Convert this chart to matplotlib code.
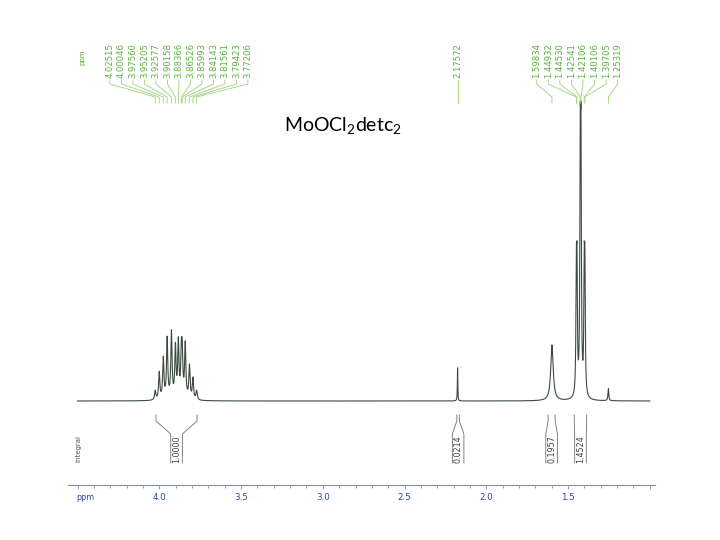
import matplotlib
matplotlib.use("Agg")
import matplotlib.pyplot as plt
import numpy as np
from matplotlib.ticker import MultipleLocator, FuncFormatter

# ---- 数据 (ppm / 相对强度，最高峰 = 100) ----
TITLE = r"MoOCl$_\mathregular{2}$detc$_\mathregular{2}$"

multiplet_ppm = [4.02515, 4.00046, 3.97560, 3.95205, 3.92577, 3.90158, 3.88366,
                 3.86526, 3.85993, 3.84143, 3.81561, 3.79423, 3.77206]
multiplet_int = [3, 9, 13.5, 20, 22, 17, 18.5, 13, 13, 18, 11, 7, 3]

single_ppm = [2.17572]
single_int = [11]

right_ppm = [1.59834, 1.44932, 1.44530, 1.42541, 1.42106, 1.40106, 1.39705, 1.25319]
right_int = [18.5, 36, 36, 72, 72, 36, 36, 4]

# 线宽 (半高半宽, ppm)
multiplet_w = 0.0045
single_w = 0.0015
right_w = [0.009, 0.003, 0.003, 0.003, 0.003, 0.003, 0.003, 0.003]

integral_from = [4.020, 2.180, 1.622, 1.462]
integral_to = [3.769, 2.165, 1.579, 1.386]
integral_val = ["1.0000", "0.0214", "0.1957", "1.4524"]

spec_range = (4.50, 1.00)

# ---- 版面 ----
W, H = 720, 540
X_40 = 159.3          # 4.0 ppm 所在像素
PX_PER_PPM = 163.5
PPM_LEFT = 4.0 + X_40 / PX_PER_PPM
PPM_RIGHT = 4.0 - (W - X_40) / PX_PER_PPM
BASE_PY = 401.0       # 基线像素
PX_PER_UNIT = 3.01

GREEN = "#5cb040"
GREEN_LINE = "#9ad47c"
SPEC = "#3c4a40"
BLUE = "#2a4aa0"


def ppm2px(p):
    return X_40 + (4.0 - p) * PX_PER_PPM


def fx(px):
    return px / W


def fy(py):
    return 1 - py / H


fig = plt.figure(figsize=(7.2, 5.4), dpi=100)
ax = fig.add_axes([0, 0, 1, 1])
ax.axis("off")
ax.set_xlim(PPM_LEFT, PPM_RIGHT)
ax.set_ylim(-(H - BASE_PY) / PX_PER_UNIT, BASE_PY / PX_PER_UNIT)

# 谱线 (洛伦兹线型)
x = np.linspace(spec_range[0], spec_range[1], 40000)
y = np.zeros_like(x)
peaks = list(zip(multiplet_ppm, multiplet_int, [multiplet_w] * len(multiplet_ppm)))
peaks += list(zip(single_ppm, single_int, [single_w]))
peaks += list(zip(right_ppm, right_int, right_w))
for p, h, g in peaks:
    y += h / (1 + ((x - p) / g) ** 2)
ax.plot(x, y, color=SPEC, lw=0.8)


# 峰标注
def label_group(ppms, center_px, spacing):
    n = len(ppms)
    for i, p in enumerate(ppms):
        lx = center_px + (i - (n - 1) / 2) * spacing
        px = ppm2px(p)
        ax.text(fx(lx), fy(78), "%.5f" % p, transform=ax.transAxes, rotation=90,
                ha="center", va="bottom", fontsize=6.1, color=GREEN)
        ax.plot([fx(lx), fx(lx), fx(px), fx(px)], [fy(80), fy(84), fy(97), fy(103)],
                transform=ax.transAxes, color=GREEN_LINE, lw=0.6)


label_group(multiplet_ppm, 178.9, 11.5)
label_group(single_ppm, ppm2px(single_ppm[0]), 11.5)
label_group(right_ppm, 577.2, 11.57)
ax.text(fx(82.5), fy(57), "ppm", transform=ax.transAxes, rotation=90,
        ha="center", va="center", fontsize=5, color=GREEN)

# 积分
for a, b, v in zip(integral_from, integral_to, integral_val):
    pa, pb = ppm2px(a), ppm2px(b)
    mid = (pa + pb) / 2
    for edge, box in ((pa, mid - 5.8), (pb, mid + 5.8)):
        ax.plot([fx(edge), fx(edge), fx(box), fx(box)], [fy(415), fy(421), fy(434), fy(463)],
                transform=ax.transAxes, color="#707070", lw=0.6)
    ax.text(fx(mid), fy(449), v, transform=ax.transAxes, rotation=90,
            ha="center", va="center", fontsize=5.8, color="#404040")
ax.text(fx(78), fy(448), "Integral", transform=ax.transAxes, rotation=90,
        ha="center", va="center", fontsize=5, color="#505050")

# 标题
ax.text(fx(343), fy(132), TITLE, transform=ax.transAxes, ha="center", va="baseline",
        fontsize=14, family="Lato", color="black")

# ppm 刻度轴
ax_l, ax_r, ax_y = 68, 655, 485
ax2 = fig.add_axes([fx(ax_l), fy(ax_y), (ax_r - ax_l) / W, 1e-6])
ax2.set_xlim(4.0 - (ax_l - X_40) / PX_PER_PPM, 4.0 - (ax_r - X_40) / PX_PER_PPM)
ax2.set_yticks([])
for s in ("top", "left", "right"):
    ax2.spines[s].set_visible(False)
ax2.spines["bottom"].set_color("#8090b8")
ax2.spines["bottom"].set_linewidth(0.8)
ax2.xaxis.set_major_locator(MultipleLocator(0.5))
ax2.xaxis.set_minor_locator(MultipleLocator(0.1))
ax2.xaxis.set_major_formatter(FuncFormatter(lambda v, pos: "" if v > 4.4 or v < 1.1 else "%.1f" % v))
ax2.tick_params(axis="x", which="major", length=3, width=0.6, color="#8090b8",
                labelsize=6.3, labelcolor=BLUE, pad=3)
ax2.tick_params(axis="x", which="minor", length=2, width=0.6, color="#8090b8")
ax.text(fx(76), fy(497), "ppm", transform=ax.transAxes, ha="left", va="center",
        fontsize=5.8, color=BLUE)

fig.savefig("out.png", dpi=100)
